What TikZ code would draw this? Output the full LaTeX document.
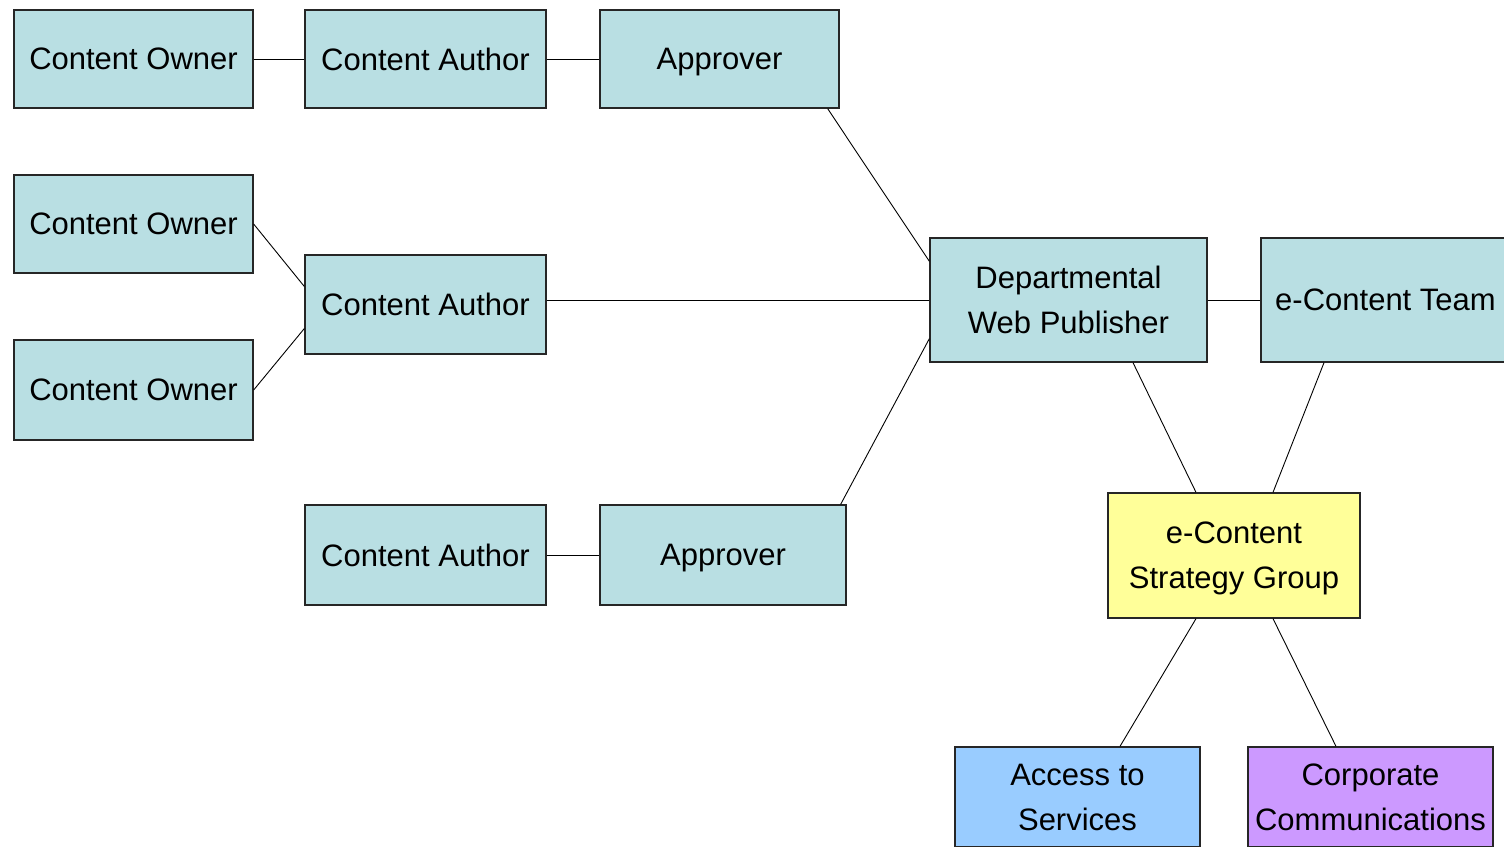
\documentclass[tikz,border=0pt]{standalone}
\usepackage{fontspec}
\setmainfont{Liberation Sans}
\usetikzlibrary{calc}
\definecolor{teal}{RGB}{185,223,227}
\definecolor{paleyellow}{RGB}{255,255,153}
\definecolor{paleblue}{RGB}{153,204,255}
\definecolor{palepurple}{RGB}{204,153,255}
\tikzset{
  box/.style={draw=black!85, line width=1.3pt, fill=teal, inner sep=0pt,
    align=center, font=\fontsize{31}{45}\selectfont, text depth=0pt},
  link/.style={draw=black, line width=0.9pt},
}
\begin{document}
\begin{tikzpicture}[x=1pt, y=-1pt]
\useasboundingbox (0,0) rectangle (1504,846);
\clip (0,0) rectangle (1504,846);
\fill[white] (0,0) rectangle (1504,846);

% contributor chain, top row
\node[box, minimum width=239pt, minimum height=98pt] (co1) at (133.5,59) {Content Owner};
\node[box, minimum width=241pt, minimum height=98pt] (ca1) at (425.5,59) {Content Author};
\node[box, minimum width=239pt, minimum height=98pt] (ap1) at (719.5,59) {Approver};

% two owners sharing one author
\node[box, minimum width=239pt, minimum height=98pt] (co2) at (133.5,224) {Content Owner};
\node[box, minimum width=241pt, minimum height=99pt] (ca2) at (425.5,304.5) {Content Author};
\node[box, minimum width=239pt, minimum height=100pt] (co3) at (133.5,390) {Content Owner};

% author with approver, bottom row
\node[box, minimum width=241pt, minimum height=100pt] (ca3) at (425.5,555) {Content Author};
\node[box, minimum width=246pt, minimum height=100pt] (ap3) at (723,555) {Approver};

% publishing and strategy
\node[box, minimum width=277pt, minimum height=124pt] (dwp) at (1068.5,300) {Departmental\\Web Publisher};
\node[box, minimum width=249pt, minimum height=124pt] (ect) at (1385.5,300) {e-Content Team};
\node[box, fill=paleyellow, minimum width=252pt, minimum height=125pt] (esg) at (1234,555.5) {e-Content\\Strategy Group};
\node[box, fill=paleblue, minimum width=245pt, minimum height=100pt] (ats) at (1077.5,797) {Access to\\Services};
\node[box, fill=palepurple, minimum width=245pt, minimum height=100pt] (cc) at (1370.5,797) {Corporate\\Communications};

% connectors
\draw[link] (co1) -- (ca1);
\draw[link] (ca1) -- (ap1);
\draw[link] ($(ap1.south east)+(-12,0)$) -- ($(dwp.north west)+(0,24)$);
\draw[link] (co2.east) -- ($(ca2.west)+(0,-18)$);
\draw[link] (co3.east) -- ($(ca2.west)+(0,24)$);
\draw[link] (dwp.west) -- (dwp.west -| ca2.east);
\draw[link] (ca3) -- (ap3);
\draw[link] ($(ap3.north east)+(-6,0)$) -- ($(dwp.south west)+(0,-24)$);
\draw[link] (dwp.east) -- (dwp.east -| ect.west);
\draw[link] ($(dwp.south)+(64.5,0)$) -- ($(esg.north)+(-38,0)$);
\draw[link] ($(ect.south)+(-61.5,0)$) -- ($(esg.north)+(39,0)$);
\draw[link] ($(esg.south)+(-38,0)$) -- ($(ats.north)+(42.5,0)$);
\draw[link] ($(esg.south)+(39,0)$) -- ($(cc.north)+(-34.5,0)$);
\end{tikzpicture}
\end{document}
